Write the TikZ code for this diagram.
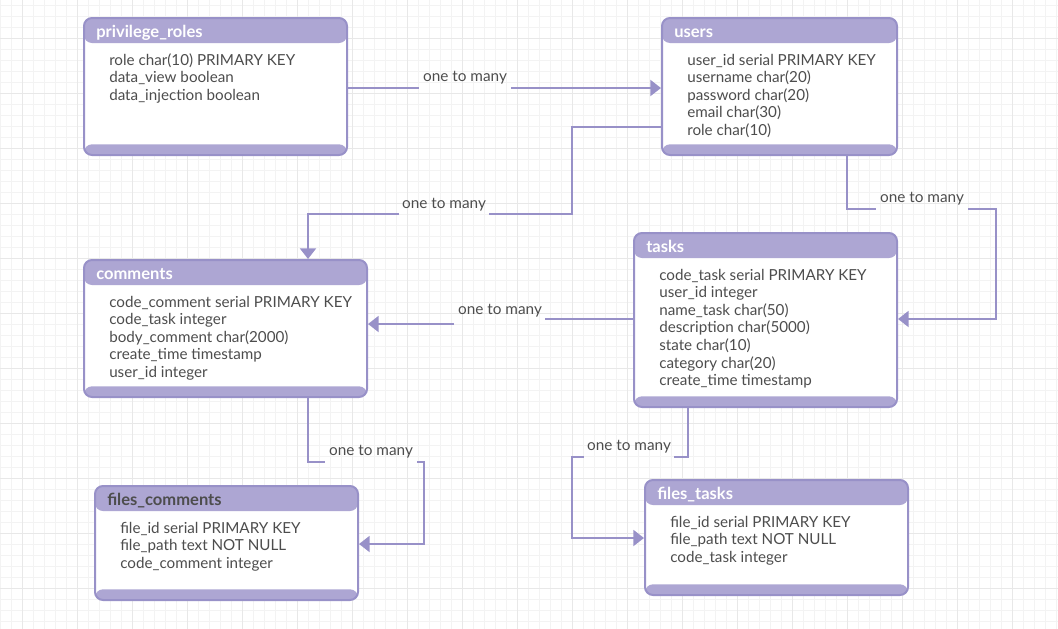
\documentclass[tikz,border=0pt]{standalone}
\usepackage{fontspec}
\setmainfont{Lato}
\usetikzlibrary{arrows.meta}
\definecolor{erline}{RGB}{152,145,200}
\definecolor{erhead}{RGB}{173,166,211}
\definecolor{ertext}{RGB}{77,77,77}
\definecolor{gridminor}{RGB}{243,243,243}
\definecolor{gridmajor}{RGB}{232,232,232}

\begin{document}
\begin{tikzpicture}[x=.75pt,y=-.75pt,
    table/.style={fill=white,line width=1.5pt,rounded corners=6pt,inner sep=0pt,anchor=north west,
      path picture={
        \fill[erhead] (path picture bounding box.north west) rectangle ([yshift=-18.75pt]path picture bounding box.north east);
        \fill[erhead] (path picture bounding box.south west) rectangle ([yshift=8pt]path picture bounding box.south east);},
      postaction={draw=erline,line width=1.5pt}},
    title/.style={anchor=base west,inner sep=0pt,text=white,font=\bfseries\fontsize{12.4}{14}\selectfont},
    field/.style={anchor=base west,inner sep=0pt,text=ertext,font=\fontsize{11.4}{13}\selectfont},
    rel/.style={draw=erline,line width=1.5pt},
    many/.style={rel,-{Triangle[length=8pt,width=12pt]}},
    card/.style={inner sep=0pt,text=ertext,font=\fontsize{11.5}{13}\selectfont}]
  \useasboundingbox (0,0) rectangle (1058,629);
  % background grid
  \foreach \k in {0,...,96}
    \draw[gridminor,line width=.75pt] (0.3+11*\k,0) -- (0.3+11*\k,629);
  \foreach \k in {0,...,56}
    \draw[gridminor,line width=.75pt] (0,5.3+11*\k) -- (1058,5.3+11*\k);
  \foreach \k in {2,7,...,96}
    \draw[gridmajor,line width=.75pt] (0.3+11*\k,0) -- (0.3+11*\k,629);
  \foreach \k in {3,8,...,56}
    \draw[gridmajor,line width=.75pt] (0,5.3+11*\k) -- (1058,5.3+11*\k);

  % tables
  \node[table,minimum width=197.25pt,minimum height=102.75pt] (roles) at (83,17) {};
  \node[title] (roles-t) at ([xshift=9.75pt,yshift=-15pt]roles.north west) {privilege\_roles};
  \foreach \f [count=\i] in {role char(10) PRIMARY KEY,data\_view boolean,data\_injection boolean}
    \node[field] (roles-\i) at ([xshift=19.5pt,yshift={-22.8pt-13.2pt*\i}]roles.north west) {\f};

  \node[table,minimum width=176.25pt,minimum height=102.75pt] (users) at (661,17) {};
  \node[title] (users-t) at ([xshift=9.75pt,yshift=-15pt]users.north west) {users};
  \foreach \f [count=\i] in {user\_id serial PRIMARY KEY,username char(20),password char(20),email char(30),role char(10)}
    \node[field] (users-\i) at ([xshift=19.5pt,yshift={-22.8pt-13.2pt*\i}]users.north west) {\f};

  \node[table,minimum width=197.25pt,minimum height=130.5pt] (tasks) at (633,232) {};
  \node[title] (tasks-t) at ([xshift=9.75pt,yshift=-15pt]tasks.north west) {tasks};
  \foreach \f [count=\i] in {code\_task serial PRIMARY KEY,user\_id integer,name\_task char(50),description char(5000),state char(10),category char(20),create\_time timestamp}
    \node[field] (tasks-\i) at ([xshift=19.5pt,yshift={-22.8pt-13.2pt*\i}]tasks.north west) {\f};

  \node[table,minimum width=212.25pt,minimum height=102.75pt] (comments) at (83,259) {};
  \node[title] (comments-t) at ([xshift=9.75pt,yshift=-15pt]comments.north west) {comments};
  \foreach \f [count=\i] in {code\_comment serial PRIMARY KEY,code\_task integer,body\_comment char(2000),create\_time timestamp,user\_id integer}
    \node[field] (comments-\i) at ([xshift=19.5pt,yshift={-22.8pt-13.2pt*\i}]comments.north west) {\f};

  \node[table,minimum width=197.25pt,minimum height=85.5pt] (fcomments) at (94,485) {};
  \node[title,text=ertext] (fcomments-t) at ([xshift=9.75pt,yshift=-15pt]fcomments.north west) {files\_comments};
  \foreach \f [count=\i] in {file\_id serial PRIMARY KEY,file\_path text NOT NULL,code\_comment integer}
    \node[field] (fcomments-\i) at ([xshift=19.5pt,yshift={-22.8pt-13.2pt*\i}]fcomments.north west) {\f};

  \node[table,minimum width=197.25pt,minimum height=86.25pt] (ftasks) at (644,479) {};
  \node[title] (ftasks-t) at ([xshift=9.75pt,yshift=-15pt]ftasks.north west) {files\_tasks};
  \foreach \f [count=\i] in {file\_id serial PRIMARY KEY,file\_path text NOT NULL,code\_task integer}
    \node[field] (ftasks-\i) at ([xshift=19.5pt,yshift={-22.8pt-13.2pt*\i}]ftasks.north west) {\f};

  % relations
  \coordinate (ru-a) at (419,88);
  \coordinate (ru-b) at (511,88);
  \draw[rel] (roles.east |- ru-a) -- (ru-a);
  \draw[many] (ru-b) -- (users.west |- ru-b);
  \node[card] (ru) at (465,78) {one to many};

  \coordinate (uc-a) at (572,127);
  \coordinate (uc-b) at (489,214);
  \coordinate (uc-c) at (399,214);
  \coordinate (uc-d) at (308,214);
  \draw[rel] (users.west |- uc-a) -- (uc-a) |- (uc-b);
  \draw[many] (uc-c) -- (uc-d) -- (comments.north -| uc-d);
  \node[card] (uc) at (444,205) {one to many};

  \coordinate (ut-a) at (847,209);
  \coordinate (ut-b) at (876,209);
  \coordinate (ut-c) at (968,209);
  \coordinate (ut-d) at (996,319);
  \draw[rel] (users.south -| ut-a) -- (ut-a) -- (ut-b);
  \draw[many] (ut-c) -| (ut-d) -- (tasks.east |- ut-d);
  \node[card] (ut) at (922,199) {one to many};

  \coordinate (tc-a) at (545,319);
  \coordinate (tc-b) at (454,324);
  \draw[rel] (tasks.west |- tc-a) -- (tc-a);
  \draw[many] (tc-b) -- (comments.east |- tc-b);
  \node[card] (tc) at (500,311) {one to many};

  \coordinate (cf-a) at (308,462);
  \coordinate (cf-b) at (325,462);
  \coordinate (cf-c) at (417,462);
  \coordinate (cf-d) at (424,544);
  \draw[rel] (comments.south -| cf-a) -- (cf-a) -- (cf-b);
  \draw[many] (cf-c) -| (cf-d) -- (fcomments.east |- cf-d);
  \node[card] (cf) at (371,452) {one to many};

  \coordinate (tf-a) at (688,457);
  \coordinate (tf-b) at (674,457);
  \coordinate (tf-c) at (584,457);
  \coordinate (tf-d) at (572,538);
  \draw[rel] (tasks.south -| tf-a) -- (tf-a) -- (tf-b);
  \draw[many] (tf-c) -| (tf-d) -- (ftasks.west |- tf-d);
  \node[card] (tf) at (629,447) {one to many};
\end{tikzpicture}
\end{document}
